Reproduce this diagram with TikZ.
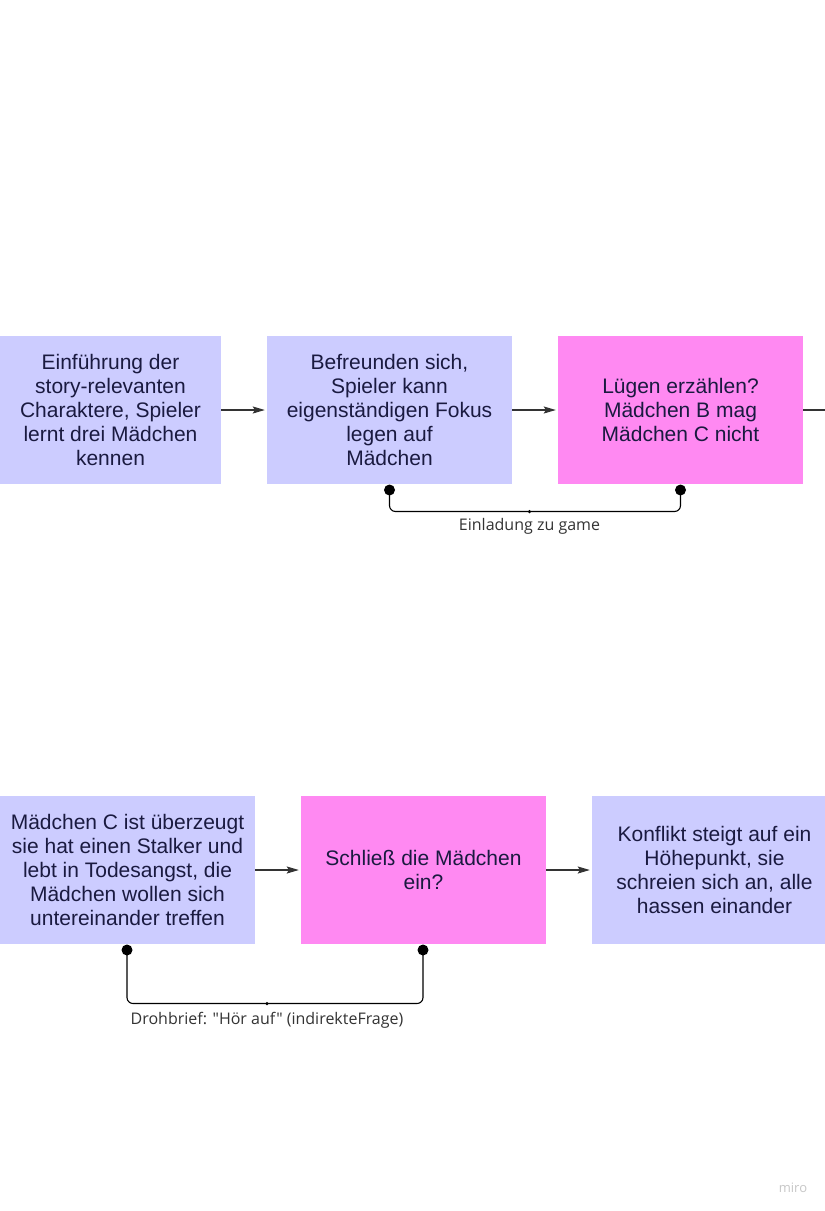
\documentclass[tikz,border=0pt]{standalone}
\usepackage{fontspec}
\setmainfont{Liberation Sans}
\newfontfamily\labelfont{Open Sans}
\usetikzlibrary{arrows.meta}
\definecolor{lav}{HTML}{CCCCFF}
\definecolor{pink}{HTML}{FF89F2}
\definecolor{ink}{HTML}{1A1A40}
\definecolor{wire}{HTML}{333333}
\definecolor{lbl}{HTML}{333333}
\tikzset{
  stepbox/.style={rectangle, inner sep=0pt, minimum width=245pt, minimum height=148pt,
    align=center, text=ink, font=\fontsize{21}{24}\selectfont},
  lavbox/.style={stepbox, fill=lav},
  pinkbox/.style={stepbox, fill=pink},
  flow/.style={draw=wire, line width=1.1pt, shorten >=2pt, -{Stealth[length=12pt,width=7pt,inset=2pt]}},
  plain/.style={draw=wire, line width=1.1pt},
  linkline/.style={draw=black, line width=1.1pt, rounded corners=6pt},
  enddot/.style={circle, fill=black, inner sep=0pt, minimum size=11pt},
  middot/.style={circle, fill=black, inner sep=0pt, minimum size=3.5pt},
  linklabel/.style={text=lbl, font=\labelfont\fontsize{16}{18}\selectfont},
}
\begin{document}
\begin{tikzpicture}[x=1pt,y=-1pt]
\clip (0,0) rectangle (825,1211);
\fill[white] (0,0) rectangle (825,1211);

% row 1
\node[lavbox, minimum width=221pt] (A) at (110.5,410) {Einführung der\\story-relevanten\\Charaktere, Spieler\\lernt drei Mädchen\\kennen};
\node[lavbox] (B) at (389.5,410) {Befreunden sich,\\Spieler kann\\eigenständigen Fokus\\legen auf\\Mädchen};
\node[pinkbox] (C) at (680.5,410) {Lügen erzählen?\\Mädchen B mag\\Mädchen C nicht};
\coordinate (Cout) at (830,410);
\draw[flow] (A.east) -- (B.west);
\draw[flow] (B.east) -- (C.west);
\draw[plain] (C.east) -- (Cout);

\node[enddot] (b1) at (389.5,490) {};
\node[enddot] (c1) at (680.5,490) {};
\node[middot] (m1) at (529.5,511.5) {};
\draw[linkline] (b1.center) |- (m1.center) -| (c1.center);
\node[linklabel] (l1) at (529.5,526) {Einladung zu game};

% row 2
\node[lavbox, minimum width=255pt] (D) at (127.5,870) {Mädchen C ist überzeugt\\sie hat einen Stalker und\\lebt in Todesangst, die\\Mädchen wollen sich\\untereinander treffen};
\node[pinkbox] (E) at (423.5,870) {Schließ die Mädchen\\ein?};
\node[lavbox] (F) at (714.5,870) {Konflikt steigt auf ein\\Höhepunkt, sie\\schreien sich an, alle\\hassen einander};
\draw[flow] (D.east) -- (E.west);
\draw[flow] (E.east) -- (F.west);

\node[enddot] (d1) at (127,950) {};
\node[enddot] (e1) at (423,950) {};
\node[middot] (m2) at (267,1003.5) {};
\draw[linkline] (d1.center) |- (m2.center) -| (e1.center);
\node[linklabel] (l2) at (267,1020) {Drohbrief: "Hör auf" (indirekteFrage)};

\node[text=black!22, font=\labelfont\fontsize{13}{15}\selectfont] (miro) at (793,1188) {miro};
\end{tikzpicture}
\end{document}
